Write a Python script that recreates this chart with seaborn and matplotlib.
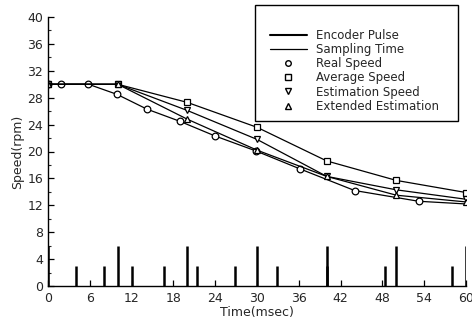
import numpy as np
import pandas as pd
import matplotlib
matplotlib.use("Agg")
import matplotlib.pyplot as plt
import matplotlib.patches as mpatches
from matplotlib.lines import Line2D
import seaborn as sns

# 数据
sample_t = [0, 10, 20, 30, 40, 50, 60]
pulse_t = [4, 8, 12, 16.6, 21.4, 26.8, 32.8, 40, 48.4, 58]
pulse_h = 3
sample_h = 6

real_t = [0, 1.8, 5.8, 9.9, 14.2, 18.9, 24.0, 29.8, 36.2, 44.0, 53.2, 60]
real_v = [30, 30, 30, 28.5, 26.3, 24.5, 22.3, 20.1, 17.4, 14.2, 12.6, 12.2]
avg_v = [30, 30, 27.3, 23.6, 18.6, 15.7, 13.9]
est_v = [30, 30, 26.1, 21.8, 16.3, 14.3, 12.9]
ext_v = [30, 30, 24.8, 20.2, 16.3, 13.5, 12.5]

sns.set_style("ticks")
plt.rcParams.update({
    'font.family': ['DejaVu Sans'],
    'font.size': 9,
    'xtick.direction': 'in',
    'ytick.direction': 'in',
})

fig = plt.figure(figsize=(4.72, 3.24), dpi=100)
ax = fig.add_axes([48 / 472, 1 - 286 / 324, 418 / 472, 269 / 324])

# 脉冲
ax.vlines(sample_t, 0, sample_h, color='black', lw=1.8)
ax.vlines(pulse_t, 0, pulse_h, color='black', lw=1.8)

line_kw = dict(color='black', lw=0.9, mfc='white', mec='black', mew=0.9, ms=4.8)
real_df = pd.DataFrame({'t': real_t, 'v': real_v})
sns.lineplot(data=real_df, x='t', y='v', ax=ax, marker='o',
             markevery=list(range(len(real_t) - 1)), **line_kw)
for vals, mk in [(avg_v, 's'), (est_v, 'v'), (ext_v, '^')]:
    df = pd.DataFrame({'t': sample_t, 'v': vals})
    sns.lineplot(data=df, x='t', y='v', ax=ax, marker=mk, **line_kw)

ax.set_xlim(0, 60)
ax.set_ylim(0, 40)
ax.set_xticks(np.arange(0, 61, 6))
ax.set_yticks(np.arange(0, 41, 4))
ax.set_yticks(np.arange(0, 41, 2), minor=True)
ax.tick_params(axis='both', length=4, width=0.9, labelsize=9, color='black')
ax.tick_params(axis='x', pad=4)
ax.tick_params(axis='y', which='minor', length=2, width=0.8)
ax.set_xlabel('Time(msec)', fontsize=9, labelpad=1)
ax.set_ylabel('Speed(rpm)', fontsize=9, labelpad=2)
sns.despine(ax=ax)
for s in ['left', 'bottom']:
    ax.spines[s].set_linewidth(1.0)
    ax.spines[s].set_color('black')

# 图例
handles = [
    Line2D([], [], color='black', lw=1.5),
    Line2D([], [], color='black', lw=0.9),
    Line2D([], [], ls='', marker='o', mfc='white', mec='black', ms=4),
    Line2D([], [], ls='', marker='s', mfc='white', mec='black', ms=4),
    Line2D([], [], ls='', marker='v', mfc='white', mec='black', ms=4),
    Line2D([], [], ls='', marker='^', mfc='white', mec='black', ms=4),
]
labels = ['Encoder Pulse', 'Sampling Time', 'Real Speed', 'Average Speed',
          'Estimation Speed', 'Extended Estimation']
fig.legend(handles, labels, loc='upper left', bbox_to_anchor=(264 / 472, 1 - 23 / 324),
           frameon=False, fontsize=8.5, borderpad=0, labelspacing=0.1,
           handlelength=3.1, handletextpad=0.8)
fig.patches.append(mpatches.Rectangle((255 / 472, 1 - 121 / 324), 203 / 472, 116 / 324,
                                      transform=fig.transFigure, fill=False,
                                      edgecolor='black', lw=1.0))

fig.savefig("out.png", dpi=100, facecolor='white')
